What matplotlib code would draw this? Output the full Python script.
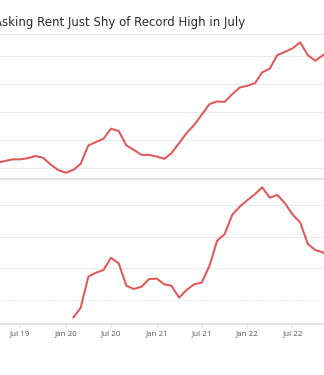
import matplotlib
matplotlib.use('agg')
import matplotlib.pyplot as plt
import pandas as pd
from matplotlib.lines import Line2D

# asking rent, monthly, Apr 2019 - Dec 2022 (dollars)
rent_start = '2019-04-01'
rent = [1409, 1412, 1415, 1415, 1417, 1421, 1418, 1406, 1396,
        1391, 1396, 1407, 1440, 1446, 1452, 1470, 1466, 1440, 1432, 1423, 1423,
        1420, 1416, 1426, 1444, 1462, 1477, 1495, 1514, 1519, 1518, 1532, 1544,
        1547, 1552, 1571, 1578, 1602, 1608, 1614, 1625, 1602, 1592, 1602, 1611]

# year-over-year change, Feb 2020 - Dec 2022 (percent)
yoy_start = '2020-02-01'
yoy = [-1.64, -0.73, 2.21, 2.58, 2.84, 4.00, 3.47, 1.35, 1.04, 1.26, 1.99,
       2.02, 1.48, 1.35, 0.22, 0.95, 1.49, 1.64, 3.22, 5.61, 6.22, 8.07, 8.83,
       9.46, 10.03, 10.67, 9.68, 9.94, 9.15, 8.11, 7.35, 5.30, 4.73, 4.51, 3.60]

tick_dates = ['2019-07-01', '2020-01-01', '2020-07-01', '2021-01-01',
              '2021-07-01', '2022-01-01', '2022-07-01']
tick_labels = ['Jul 19', 'Jan 20', 'Jul 20', 'Jan 21', 'Jul 21', 'Jan 22', 'Jul 22']

title = 'Asking Rent Just Shy of Record High in July'

RED = '#e15759'
GRID = '#ececec'
AXIS = '#e2e2e2'

rent_dates = pd.date_range(rent_start, periods=len(rent), freq='MS')
yoy_dates = pd.date_range(yoy_start, periods=len(yoy), freq='MS')
x_left = pd.Timestamp('2019-04-11 12:00')
x_right = pd.Timestamp('2022-11-05')

fig = plt.figure(figsize=(3.24, 3.75), dpi=100)

# top panel: rent level
ax1 = fig.add_axes([0, 0.5219, 1, 0.3821])
ax1.plot(rent_dates, rent, color=RED, lw=1.45, solid_joinstyle='round')
ax1.set_xlim(x_left, x_right)
ax1.set_ylim(1379.2, 1636.4)
ax1.set_yticks([1400, 1450, 1500, 1550, 1600])
ax1.grid(axis='y', color=GRID, lw=0.8)
ax1.set_xticks([])
ax1.tick_params(axis='y', length=0, labelleft=False)
for s in ['top', 'left', 'right']:
    ax1.spines[s].set_visible(False)
ax1.spines['bottom'].set_color(AXIS)
ax1.spines['bottom'].set_linewidth(1.5)

# bottom panel: year-over-year change
ax2 = fig.add_axes([0, 0.136, 1, 0.3813])
ax2.plot(yoy_dates, yoy, color=RED, lw=1.45, solid_joinstyle='round')
ax2.set_xlim(x_left, x_right)
ax2.set_ylim(-2.27, 11.26)
for v in [3, 6, 9]:
    ax2.axhline(v, color=GRID, lw=0.8, zorder=0)
ax2.axhline(0, color='#dddddd', lw=0.7, ls=(0, (1, 1.5)), zorder=0)
ax2.set_yticks([])
ax2.set_xticks(pd.to_datetime(tick_dates))
ax2.set_xticklabels(tick_labels, fontfamily='Open Sans', fontsize=5.8, color='#555555')
ax2.tick_params(axis='x', length=2.2, width=0.6, color='#dcdcdc', pad=2.6)
for s in ['top', 'left', 'right']:
    ax2.spines[s].set_visible(False)
ax2.spines['bottom'].set_color(AXIS)
ax2.spines['bottom'].set_linewidth(1.5)

# title and rule under it
fig.text(245 / 324, 1 - 26 / 375, title, ha='right', va='baseline',
         fontfamily='DejaVu Sans', fontsize=8.5, color='#2b2b2b')
fig.add_artist(Line2D([0, 1], [1 - 34 / 375, 1 - 34 / 375], color='#e6e6e6', lw=0.8))

fig.savefig('out.png', dpi=100)
